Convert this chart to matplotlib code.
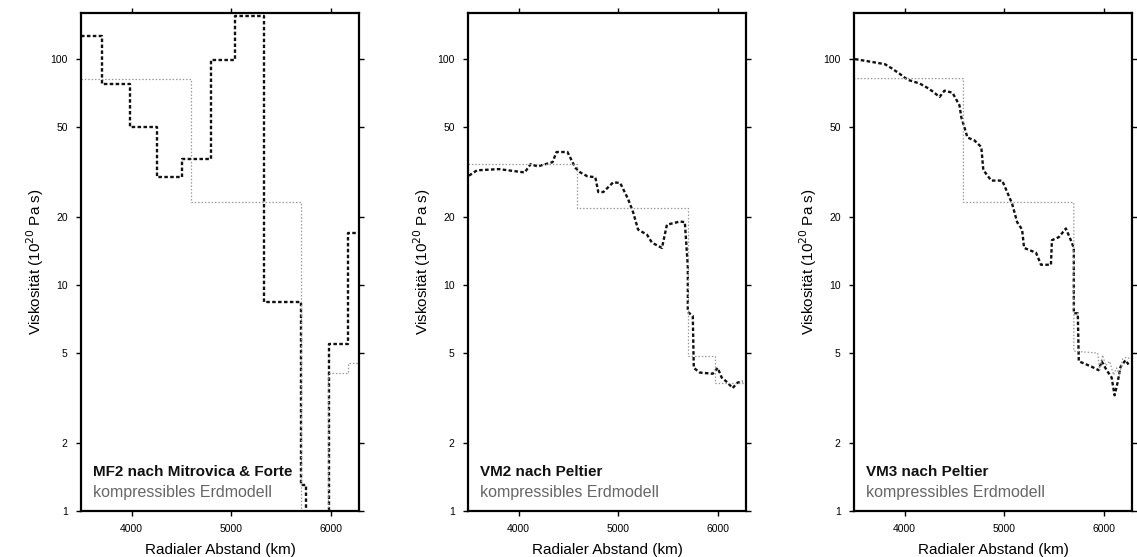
import matplotlib
matplotlib.use("Agg")
import matplotlib.pyplot as plt
import matplotlib.ticker as ticker

plt.rcParams.update({'font.family': ['Liberation Sans', 'DejaVu Sans']})

# MF2 nach Mitrovica & Forte (Stufenmodelle: Grenzen + Werte)
mf2_edges = [3490, 3700, 3980, 4250, 4510, 4800, 5040, 5330, 5700, 5750, 5980, 6170, 6290]
mf2_eta = [126, 77.5, 50, 30, 36, 99, 155, 8.4, 1.3, 0.5, 5.5, 17]
mf2c_edges = [3490, 4600, 5700, 5970, 6170, 6290]
mf2c_eta = [81.6, 23.3, 0.5, 4.1, 4.5]

# VM2 nach Peltier
vm2_r = [3500, 3580, 3800, 4060, 4120, 4190, 4340, 4380, 4490, 4570, 4620, 4690, 4770,
         4800, 4850, 4950, 5020, 5100, 5150, 5200, 5290, 5340, 5440, 5490, 5620, 5670,
         5700, 5700, 5750, 5760, 5820, 5950, 6000, 6040, 6100, 6150, 6200, 6250]
vm2_eta = [30.5, 32.2, 32.6, 31.5, 34.3, 33.5, 35, 38.8, 38.8, 33, 31.5, 30.3, 30,
           25.8, 25.8, 28.5, 28.3, 24, 21, 17.6, 16.7, 15.4, 14.6, 18.5, 19.1, 19,
           12.1, 7.6, 7.3, 4.3, 4.1, 4.05, 4.3, 3.9, 3.7, 3.5, 3.7, 3.75]
vm2c_edges = [3490, 4590, 5700, 5970, 6270]
vm2c_eta = [34.4, 21.9, 4.85, 3.7]

# VM3 nach Peltier
vm3_r = [3500, 3650, 3800, 3870, 3950, 4030, 4150, 4220, 4280, 4350, 4400, 4480, 4550,
         4570, 4600, 4630, 4700, 4770, 4790, 4870, 4980, 5030, 5080, 5130, 5180, 5200,
         5320, 5370, 5470, 5480, 5550, 5620, 5670, 5700, 5700, 5740, 5750, 5880, 5950,
         5980, 6030, 6080, 6110, 6140, 6170, 6220, 6250]
vm3_eta = [100, 97.5, 95, 91, 86, 81, 78, 75, 72, 68, 72.5, 71, 62.5,
           55, 50, 45, 43.7, 40.8, 32.3, 29, 29, 25.8, 22.9, 19, 17.6, 14.6,
           13.9, 12.3, 12.3, 15.8, 16.3, 17.8, 15.8, 14.6, 7.5, 7.5, 4.6, 4.35, 4.2,
           4.6, 4.2, 3.9, 3.25, 3.7, 4.35, 4.65, 4.45]
vm3c_r = [3490, 4590, 4590, 5700, 5700, 5940, 5960, 5990, 6020, 6060, 6100, 6130,
          6160, 6190, 6230, 6270]
vm3c_eta = [82, 82, 23.2, 23.2, 5.1, 5.0, 4.2, 4.9, 4.4, 4.6, 4.0, 4.3,
            4.0, 4.7, 4.8, 4.7]

titles = ["MF2 nach Mitrovica & Forte", "VM2 nach Peltier", "VM3 nach Peltier"]
subtitle = "kompressibles Erdmodell"
yticks = [1, 2, 5, 10, 20, 50, 100]
xticks = [4000, 5000, 6000]

dark = dict(color='#111111', lw=1.7, ls=(0, (1.5, 1.0)))
light = dict(color='#9a9a9a', lw=0.9, ls=(0, (1.2, 1.5)))

fig = plt.figure(figsize=(11.37, 5.57), dpi=100)
lefts = [81, 468, 854]
axes = []
for lx in lefts:
    ax = fig.add_axes([lx / 1137, (557 - 511) / 557, 278 / 1137, 498 / 557])
    axes.append(ax)

ax1, ax2, ax3 = axes
ax1.step(mf2_edges, mf2_eta + [mf2_eta[-1]], where='post', **dark)
ax1.step(mf2c_edges, mf2c_eta + [mf2c_eta[-1]], where='post', **light)

ax2.plot(vm2_r, vm2_eta, **dark)
ax2.step(vm2c_edges, vm2c_eta + [vm2c_eta[-1]], where='post', **light)

ax3.plot(vm3_r, vm3_eta, **dark)
ax3.plot(vm3c_r, vm3c_eta, **light)

for ax, t in zip(axes, titles):
    ax.set_yscale('log')
    ax.set_ylim(1, 160)
    ax.set_xlim(3490, 6285)
    ax.yaxis.set_major_locator(ticker.FixedLocator(yticks))
    ax.yaxis.set_major_formatter(ticker.FixedFormatter([str(v) for v in yticks]))
    ax.yaxis.set_minor_locator(ticker.NullLocator())
    ax.set_xticks(xticks)
    ax.set_xticklabels([str(v) for v in xticks])
    ax.tick_params(which='both', direction='out', top=True, right=True,
                   length=3.5, width=1.0, labelsize=7.5, pad=6)
    for s in ax.spines.values():
        s.set_linewidth(1.6)
    ax.set_xlabel("Radialer Abstand (km)", fontsize=11, labelpad=6)
    ax.set_ylabel("Viskosität (10$^{20}$ Pa s)", fontsize=11, labelpad=3)
    ax.text(0.043, 0.078, t, transform=ax.transAxes, fontsize=11,
            fontweight='bold', va='center', ha='left', color='#111111')
    ax.text(0.043, 0.038, subtitle, transform=ax.transAxes, fontsize=11.5,
            va='center', ha='left', color='#666666')

plt.savefig("out.png", dpi=100)
